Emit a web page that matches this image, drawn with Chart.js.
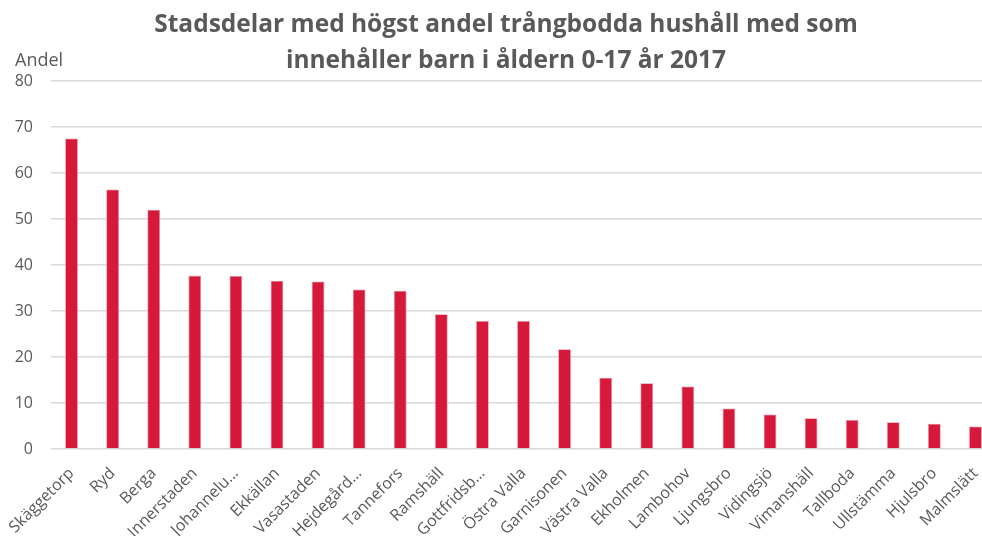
<!DOCTYPE html>
<html><head><meta charset="utf-8">
<script src="https://cdn.jsdelivr.net/npm/chart.js@4/dist/chart.umd.min.js"></script>
<style>
html,body{margin:0;padding:0;background:#fff;overflow:hidden;width:982px;height:536px;}
#wrap{position:absolute;left:0;top:0;width:998px;height:536px;}
</style></head>
<body><div id="wrap"><canvas id="c" width="998" height="536"></canvas></div>
<script>
const categories = ["Skäggetorp","Ryd","Berga","Innerstaden","Johannelu…","Ekkällan","Vasastaden","Hejdegård…","Tannefors","Ramshäll","Gottfridsb…","Östra Valla","Garnisonen","Västra Valla","Ekholmen","Lambohov","Ljungsbro","Vidingsjö","Vimanshäll","Tallboda","Ullstämma","Hjulsbro","Malmslätt"];
const andel = [67.5,56.4,52.0,37.7,37.6,36.6,36.4,34.7,34.4,29.3,27.8,27.8,21.7,15.5,14.3,13.6,8.8,7.5,6.7,6.3,5.8,5.5,4.9];
const titleLines = ["Stadsdelar med högst andel trångbodda hushåll med som","innehåller barn i åldern 0-17 år 2017"];
const yAxisLabel = "Andel";

const textPlugin = {
  id:'textPlugin',
  afterDraw(chart){
    const ctx = chart.ctx;
    ctx.save();
    ctx.fillStyle = '#595959';
    ctx.textAlign = 'center';
    ctx.textBaseline = 'alphabetic';
    ctx.font = 'bold 24.5px "Open Sans"';
    ctx.fillText(titleLines[0], 506, 32);
    ctx.fillText(titleLines[1], 506, 68);
    ctx.textAlign = 'left';
    ctx.font = '18px "Open Sans"';
    ctx.fillText(yAxisLabel, 15, 66);
    ctx.restore();
  }
};

new Chart(document.getElementById('c'), {
  type:'bar',
  data:{labels:categories, datasets:[{data:andel, backgroundColor:'#D6183A', borderColor:'#E88A9C', borderWidth:0.8, barPercentage:0.31, categoryPercentage:1}]},
  options:{
    responsive:false, animation:false,
    layout:{padding:{top:81,right:2,left:0,bottom:0}},
    plugins:{legend:{display:false}, title:{display:false}, tooltip:{enabled:false}},
    scales:{
      x:{
        grid:{display:false}, border:{display:false},
        ticks:{autoSkip:false, maxRotation:45, minRotation:45, color:'#595959', font:{family:'"Open Sans"', size:16}, padding:7},
        afterFit(s){ s.height = 87; }
      },
      y:{
        min:0, max:80,
        grid:{color:'#D9D9D9', lineWidth:1.4, drawTicks:false},
        border:{display:false},
        ticks:{stepSize:10, color:'#595959', font:{family:'"Open Sans"', size:16}, padding:18},
        afterFit(s){ s.width = 51; }
      }
    }
  },
  plugins:[textPlugin]
});
</script></body></html>
